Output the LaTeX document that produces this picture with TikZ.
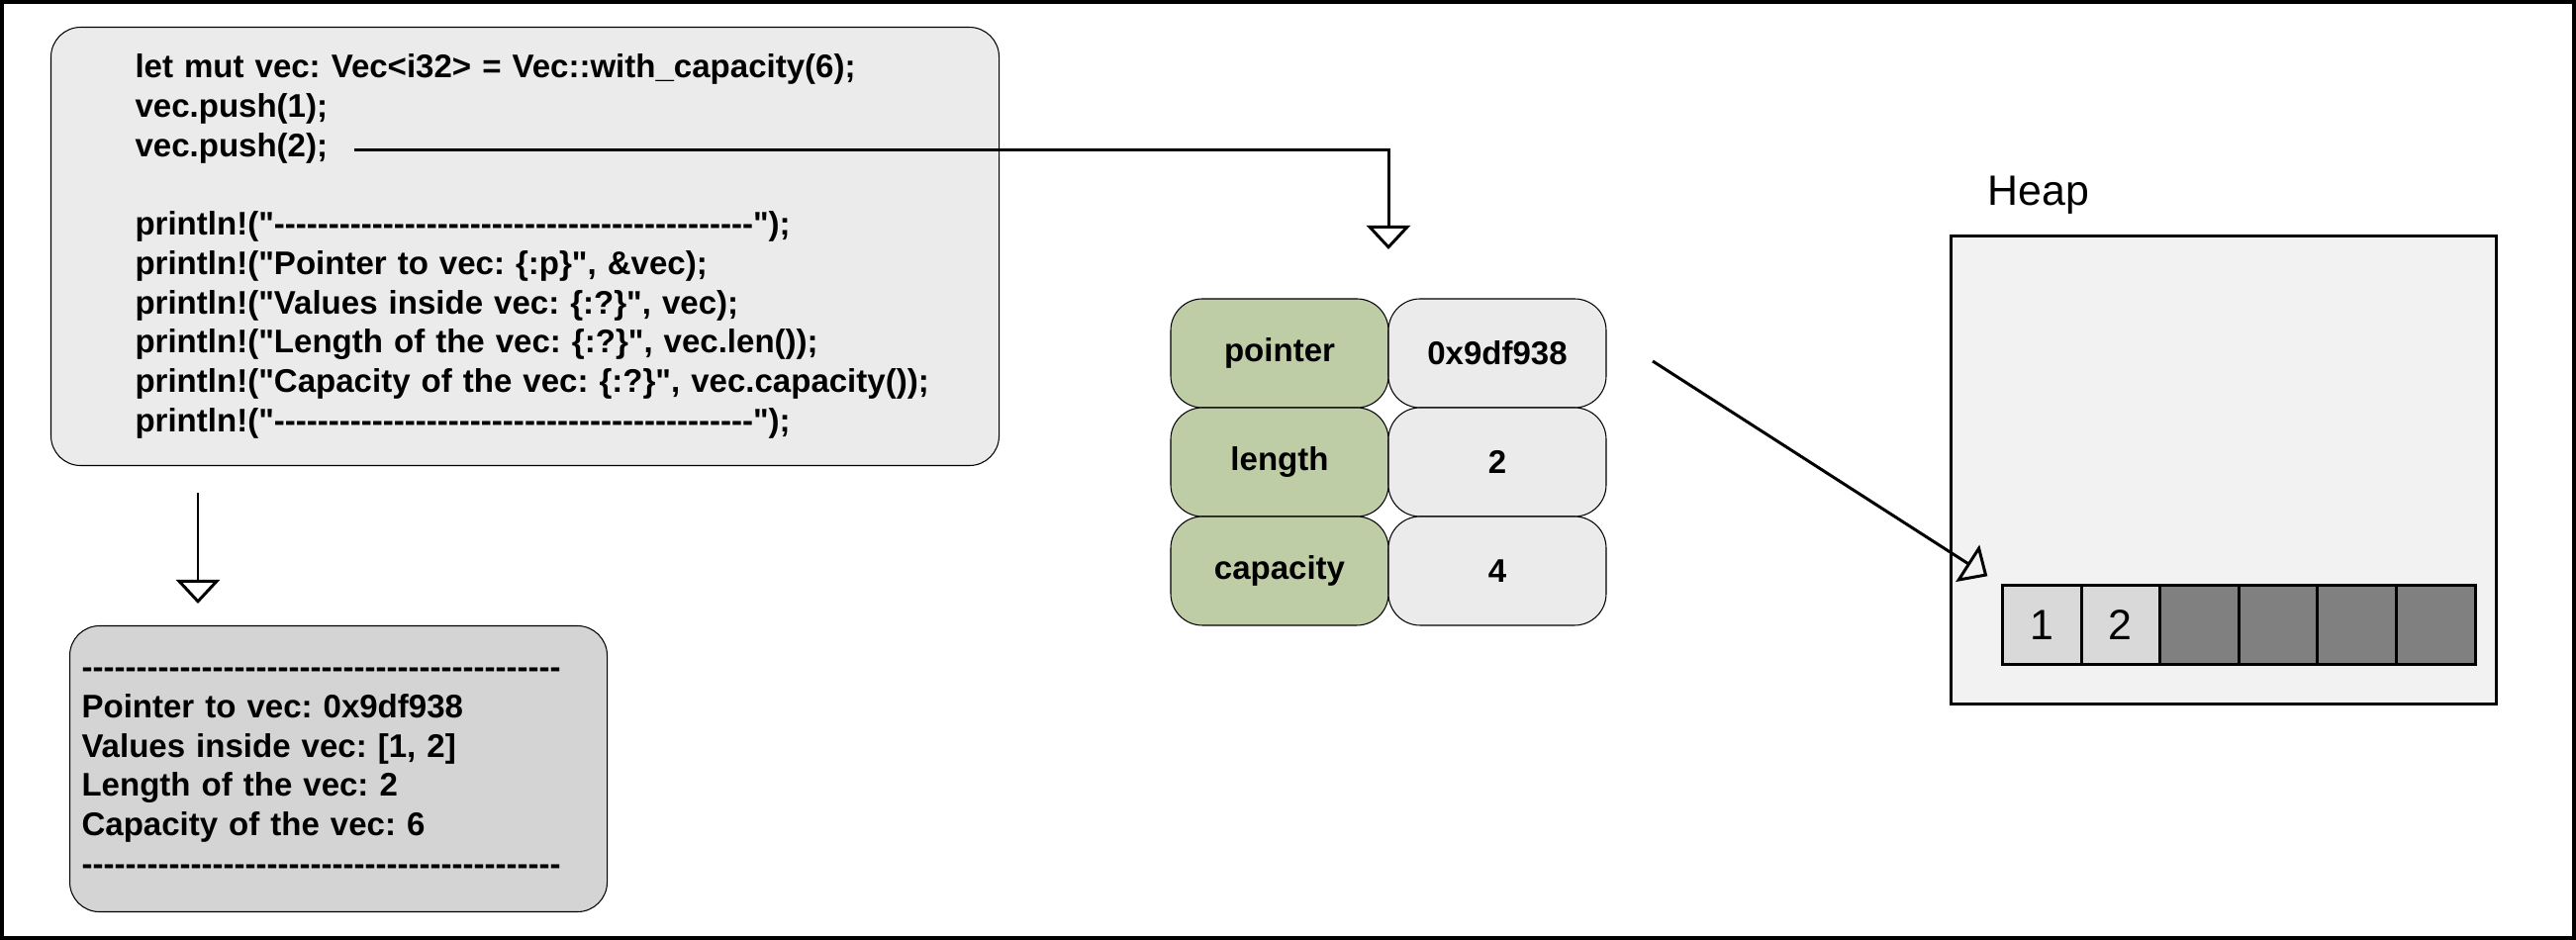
\documentclass[tikz,border=0pt]{standalone}
\usepackage{fontspec}
\setmainfont{Liberation Sans}[Ligatures=TeXOff]
\usepackage{xcolor}
\usetikzlibrary{positioning,arrows.meta}

\definecolor{codegray}{RGB}{235,235,235}
\definecolor{outgray}{RGB}{212,212,212}
\definecolor{keygreen}{RGB}{191,205,166}
\definecolor{heapgray}{RGB}{242,242,242}
\definecolor{usedgray}{RGB}{217,217,217}
\definecolor{freegray}{RGB}{128,128,128}

\newcommand{\vecfont}{\fontsize{9.4pt}{11.3pt}\selectfont\bfseries\frenchspacing}
\newcommand{\heapfont}{\fontsize{12.2pt}{14pt}\selectfont}

\begin{document}
\begin{tikzpicture}[
  textbox/.style={draw, line width=0.3pt, rounded corners=0.3cm, anchor=north west, align=left, font=\vecfont},
  fieldcell/.style={draw, line width=0.3pt, rounded corners=0.32cm, outer sep=0pt, minimum width=2.2cm, minimum height=1.1cm, font=\vecfont},
  keycell/.style={fieldcell, fill=keygreen},
  valcell/.style={fieldcell, fill=codegray},
  slotcell/.style={draw, line width=0.85pt, outer sep=0pt, inner sep=0pt, minimum width=0.796cm, minimum height=0.8cm, font=\heapfont},
  hollowarrow/.style={line width=0.85pt, -{Triangle[open, length=0.24cm, width=0.44cm]}}
]
\useasboundingbox (0,0) rectangle (26.03,9.50);

% source code:
\node[textbox, fill=codegray, inner xsep=0.85cm, text width=7.88cm, minimum height=4.43cm] (code) at (0.51,9.23) {
let mut vec: Vec<i32> = Vec::with\_capacity(6);\\
vec.push(1);\\
vec.push(2);\\[11.3pt]
println!("--------------------------------------------");\\
println!("Pointer to vec: \{:p\}", \&vec);\\
println!("Values inside vec: \{:?\}", vec);\\
println!("Length of the vec: \{:?\}", vec.len());\\
\mbox{println!("Capacity of the vec: \{:?\}", vec.capacity());}\\
println!("--------------------------------------------");};

% program output:
\node[textbox, fill=outgray, inner xsep=0.12cm, text width=5.19cm, minimum height=2.89cm] (out) at (0.70,3.18) {
\strut--------------------------------------------\\
Pointer to vec: 0x9df938\\
Values inside vec: [1, 2]\\
Length of the vec: 2\\
Capacity of the vec: 6\\
--------------------------------------------\strut};

\coordinate (runx) at (2.00,0);
\draw[hollowarrow, shorten <=2.7mm, shorten >=2.2mm] (code.south -| runx) -- (out.north -| runx);

% stack part of the vec:
\node[keycell, anchor=north west] (ptr) at (11.83,6.48) {pointer};
\node[valcell, right=0pt of ptr] (ptrv) {0x9df938};
\node[keycell, below=0pt of ptr] (len) {length};
\node[valcell, right=0pt of len] (lenv) {2};
\node[keycell, below=0pt of len] (cap) {capacity};
\node[valcell, right=0pt of cap] (capv) {4};

\coordinate (push) at (3.58,7.98);
\draw[hollowarrow, shorten >=5mm] (push) -| (ptr.north east);

% heap:
\node[anchor=base west, inner sep=0pt, font=\heapfont] (heaplbl) at (20.08,7.42) {Heap};
\node[draw, line width=0.85pt, fill=heapgray, anchor=north west, minimum width=5.51cm, minimum height=4.73cm] (heap) at (19.70,7.13) {};

\node[slotcell, fill=usedgray, anchor=north west] (s1) at (20.235,3.58) {1};
\node[slotcell, fill=usedgray, right=0pt of s1] (s2) {2};
\node[slotcell, fill=freegray, right=0pt of s2] (s3) {};
\node[slotcell, fill=freegray, right=0pt of s3] (s4) {};
\node[slotcell, fill=freegray, right=0pt of s4] (s5) {};
\node[slotcell, fill=freegray, right=0pt of s5] (s6) {};

\coordinate (ptrout) at (16.70,5.85);
\draw[hollowarrow, shorten >=1.8mm] (ptrout) -- (s1.north west);

% frame:
\draw[line width=1.1pt] (0.02,0.02) rectangle (26.01,9.48);

\end{tikzpicture}
\end{document}
